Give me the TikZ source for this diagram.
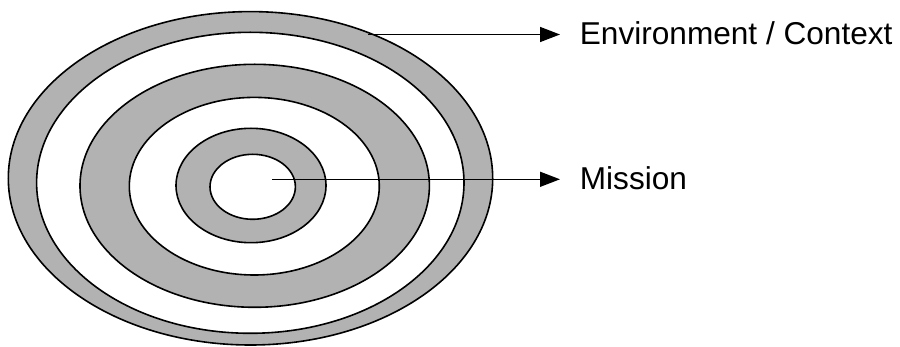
\documentclass[tikz,border=0pt]{standalone}
\usepackage{fontspec}
\setmainfont{Liberation Sans}
\usetikzlibrary{arrows.meta,shapes.geometric}

\begin{document}
\begin{tikzpicture}[x=0.5pt,y=-0.5pt,
  gr/.style={draw,ellipse,line width=0.8pt,fill=black!30,inner sep=0pt,outer sep=0pt},
  wh/.style={gr,fill=white},
  f/.style={-{Triangle[length=10pt,width=7.5pt]},line width=0.75pt},
  lab/.style={font=\fontsize{15.8}{18}\selectfont,anchor=base west,inner ysep=0pt,inner xsep=9.75pt}]
\useasboundingbox (0,0) rectangle (900,347);
\node[gr,minimum width=242.2pt,minimum height=166.7pt] (ring6) at (250.5,178.3) {};
\node[wh,minimum width=213.7pt,minimum height=150.5pt] (ring5) at (250.3,182.8) {};
\node[gr,minimum width=174.7pt,minimum height=121.5pt] (ring4) at (254.7,185.8) {};
\node[wh,minimum width=125pt,minimum height=88.8pt] (ring3) at (254.3,186.2) {};
\node[gr,minimum width=75pt,minimum height=57.2pt] (ring2) at (251,185.5) {};
\node[wh,minimum width=42.7pt,minimum height=32.5pt] (ring1) at (252.7,186.8) {};
\node[lab] (env) at (560,45) {Environment / Context};
\node[lab] (mis) at (560,189.3) {Mission};
\coordinate (envfrom) at (368,34.5);
\coordinate (misfrom) at (272,179.3);
\draw[f] (envfrom) -- (envfrom -| env.west);
\draw[f] (misfrom) -- (misfrom -| mis.west);
\end{tikzpicture}
\end{document}
